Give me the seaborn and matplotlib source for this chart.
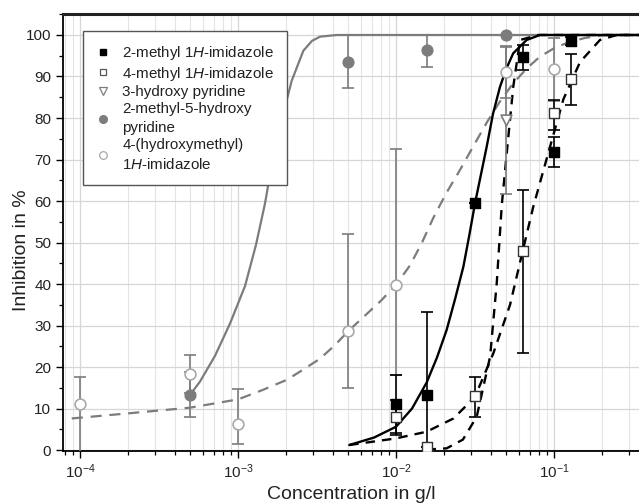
import numpy as np
import pandas as pd
import matplotlib
matplotlib.use("Agg")
import matplotlib.pyplot as plt
import seaborn as sns
from matplotlib import font_manager as fm
from matplotlib.ticker import LogLocator, MultipleLocator, NullFormatter
from matplotlib.lines import Line2D

sns.set_theme(style="ticks")
plt.rcParams["font.family"] = ["Liberation Sans", "DejaVu Sans"]

# pick an installed italic face for the "1H" parts
_it = None
for fam in ["Liberation Sans", "Arimo", "Roboto", "Open Sans", "Lato", "Noto Sans", "DejaVu Sans"]:
    for f in fm.fontManager.ttflist:
        if f.name == fam and f.style in ("italic", "oblique") and f.weight in (400, "normal", "regular", "book"):
            _it = (fam, f.style)
            break
    if _it:
        break
if _it is None:
    _it = ("DejaVu Sans", "oblique")
plt.rcParams["mathtext.fontset"] = "custom"
plt.rcParams["mathtext.rm"] = "Liberation Sans"
plt.rcParams["mathtext.it"] = f"{_it[0]}:{_it[1]}"
plt.rcParams["mathtext.bf"] = "Liberation Sans:bold"

# ---------------- data (concentration in g/l, inhibition in %) ----------------
# 2-methyl 1H-imidazole
m2_x = [0.01, 0.0156, 0.0316, 0.0634, 0.1, 0.1276]
m2_y = [11.2, 13.3, 59.4, 94.6, 71.9, 98.6]
m2_lo = [7.6, 20.0, 0.0, 3.0, 3.6, 1.0]
m2_hi = [6.9, 20.0, 0.0, 3.0, 3.5, 1.0]

# 4-methyl 1H-imidazole
m4_x = [0.01, 0.0156, 0.0316, 0.0634, 0.1, 0.1276]
m4_y = [8.0, 0.8, 12.9, 48.0, 81.3, 89.3]
m4_lo = [4.0, 0.0, 4.9, 24.7, 4.2, 6.2]
m4_hi = [4.0, 0.0, 4.8, 14.7, 3.0, 6.2]

# 3-hydroxy pyridine
hp_x = [0.05]
hp_y = [79.5]
hp_lo = [17.7]
hp_hi = [17.7]

# 2-methyl-5-hydroxy pyridine
mh_x = [0.0005, 0.005, 0.0156, 0.05]
mh_y = [13.3, 93.6, 96.4, 100.0]
mh_lo = [5.4, 6.4, 4.2, 0.0]
mh_hi = [5.4, 6.4, 3.6, 0.0]

# 4-(hydroxymethyl) 1H-imidazole
hm_x = [0.0001, 0.0005, 0.001, 0.005, 0.01, 0.05, 0.1]
hm_y = [11.2, 18.3, 6.3, 28.7, 39.8, 91.0, 91.7]
hm_lo = [12.0, 4.6, 4.8, 13.8, 21.7, 6.3, 7.5]
hm_hi = [6.5, 4.6, 8.4, 23.3, 32.8, 6.3, 7.5]

# fitted curves
fit_m2_x = [0.00506, 0.00726, 0.01, 0.01263, 0.0156, 0.01817, 0.0209, 0.02362, 0.0267,
            0.02918, 0.0316, 0.0375, 0.0411, 0.0455, 0.05006, 0.0552, 0.0671, 0.0815, 0.4]
fit_m2_y = [1.2, 3.0, 5.6, 10.0, 16.2, 22.3, 28.9, 36.3, 44.2,
            52.0, 59.4, 73.1, 81.0, 87.5, 92.0, 95.6, 98.8, 100.0, 100.0]

fit_m4_x = [0.00506, 0.01, 0.0156, 0.0231, 0.0316, 0.0413, 0.0527, 0.0634, 0.0739,
            0.0944, 0.1146, 0.1462, 0.1954, 0.25, 0.4]
fit_m4_y = [1.2, 2.8, 4.4, 7.6, 12.8, 23.3, 35.0, 48.0, 58.6,
            73.1, 84.5, 93.5, 98.8, 100.0, 100.0]

fit_hp_x = [0.0156, 0.0209, 0.0265, 0.0324, 0.0394, 0.0434, 0.0467, 0.0502, 0.0552,
            0.061, 0.0794, 0.4]
fit_hp_y = [0.1, 0.4, 2.5, 8.0, 22.5, 40.2, 59.0, 71.5, 87.5,
            98.8, 100.0, 100.0]

fit_hm_x = [0.0000886, 0.0001975, 0.000497, 0.001, 0.001418, 0.002033, 0.002469, 0.003304,
            0.00411, 0.005, 0.006365, 0.00804, 0.01, 0.012267, 0.01461, 0.01715, 0.02073,
            0.02542, 0.03116, 0.03766, 0.0455, 0.055, 0.06745, 0.08155, 0.1, 0.1208,
            0.1571, 0.2103, 0.4]
fit_hm_y = [7.6, 8.8, 10.2, 12.2, 14.4, 16.9, 18.9, 22.0,
            25.3, 28.7, 32.4, 36.0, 39.8, 44.5, 50.0, 55.8, 61.8,
            67.5, 73.5, 79.0, 84.0, 88.3, 92.0, 94.8, 96.8, 98.1,
            99.3, 100.0, 100.0]

fit_mh_x = [0.000497, 0.0005745, 0.000715, 0.00089, 0.001107, 0.0013, 0.001483, 0.001555,
            0.001844, 0.002187, 0.00259, 0.00294, 0.003304, 0.004213, 0.4]
fit_mh_y = [13.3, 16.5, 22.7, 30.5, 39.5, 49.5, 59.5, 64.0,
            78.0, 89.0, 96.2, 98.6, 99.6, 100.0, 100.0]

labels = ["2-methyl $\\mathit{1H}$-imidazole",
          "4-methyl $\\mathit{1H}$-imidazole",
          "3-hydroxy pyridine",
          "2-methyl-5-hydroxy\npyridine",
          "4-(hydroxymethyl)\n$\\mathit{1H}$-imidazole"]

# ---------------- styles ----------------
BLACK = "#000000"
GRAY = "#7c7c7c"
LGRAY = "#a8a8a8"

fig = plt.figure(figsize=(6.39, 5.03), dpi=100)
ax = fig.add_axes([63 / 639, 52 / 503, 576 / 639, 437 / 503])
ax.set_xscale("log")

# curves
sns.lineplot(x=fit_mh_x, y=fit_mh_y, ax=ax, color=GRAY, lw=1.6, sort=False,
             estimator=None, zorder=3)
sns.lineplot(x=fit_hm_x, y=fit_hm_y, ax=ax, color=GRAY, lw=1.6, sort=False,
             estimator=None, linestyle=(0, (5, 3.5)), zorder=3)
sns.lineplot(x=fit_m4_x, y=fit_m4_y, ax=ax, color=BLACK, lw=1.7, sort=False,
             estimator=None, linestyle=(0, (4, 3)), zorder=3)
sns.lineplot(x=fit_hp_x, y=fit_hp_y, ax=ax, color=BLACK, lw=1.7, sort=False,
             estimator=None, linestyle=(0, (4, 3)), zorder=3)
sns.lineplot(x=fit_m2_x, y=fit_m2_y, ax=ax, color=BLACK, lw=1.7, sort=False,
             estimator=None, zorder=3)

# error bars
def ebar(x, y, lo, hi, c):
    ax.errorbar(x, y, yerr=[lo, hi], fmt="none", ecolor=c, elinewidth=1.2,
                capsize=4, capthick=1.2, zorder=4)

ebar(hm_x, hm_y, hm_lo, hm_hi, GRAY)
ebar(mh_x, mh_y, mh_lo, mh_hi, GRAY)
ebar(hp_x, hp_y, hp_lo, hp_hi, GRAY)
ebar(m4_x, m4_y, m4_lo, m4_hi, BLACK)
ebar(m2_x, m2_y, m2_lo, m2_hi, BLACK)

# points
sns.scatterplot(x=hm_x, y=hm_y, ax=ax, marker="o", s=60, color="white",
                edgecolor=LGRAY, linewidth=1.2, zorder=5)
sns.scatterplot(x=mh_x, y=mh_y, ax=ax, marker="o", s=60, color=GRAY,
                edgecolor=GRAY, linewidth=1.0, zorder=5)
sns.scatterplot(x=hp_x, y=hp_y, ax=ax, marker="v", s=60, color="white",
                edgecolor=GRAY, linewidth=1.2, zorder=5)
sns.scatterplot(x=m4_x, y=m4_y, ax=ax, marker="s", s=42, color="white",
                edgecolor="#333333", linewidth=1.0, zorder=6)
sns.scatterplot(x=m2_x, y=m2_y, ax=ax, marker="s", s=42, color=BLACK,
                edgecolor=BLACK, linewidth=1.0, zorder=6)

# axes
ax.set_xlim(10 ** -4.108, 10 ** -0.462)
ax.set_ylim(-0.24, 105.06)
ax.set_yticks(np.arange(0, 101, 10))
ax.yaxis.set_minor_locator(MultipleLocator(5))
ax.xaxis.set_major_locator(LogLocator(base=10, numticks=10))
ax.xaxis.set_minor_locator(LogLocator(base=10, subs=np.arange(2, 10), numticks=20))
ax.xaxis.set_minor_formatter(NullFormatter())
ax.tick_params(which="major", direction="out", length=5, width=1.0, colors="black",
               labelsize=11, labelcolor="#222222")
ax.tick_params(which="minor", direction="out", length=3, width=0.9, colors="black")
ax.grid(True, which="major", color="#d6d6d6", lw=0.9, zorder=0)
ax.xaxis.grid(True, which="minor", color="#e4e4e4", lw=0.8, zorder=0)
ax.set_axisbelow(True)
for s in ["left", "bottom"]:
    ax.spines[s].set_color("black")
    ax.spines[s].set_linewidth(1.3)
ax.spines["top"].set_color("#222222")
ax.spines["top"].set_linewidth(2.2)
ax.spines["right"].set_visible(False)

ax.set_xlabel("Concentration in g/l", fontsize=14, color="#222222", labelpad=3)
ax.set_ylabel("Inhibition in %", fontsize=14, color="#222222")
ax.yaxis.set_label_coords(-0.058, 0.46)

handles = [
    Line2D([], [], ls="none", marker="s", ms=5, mfc=BLACK, mec=BLACK),
    Line2D([], [], ls="none", marker="s", ms=5, mfc="white", mec="#555555", mew=0.9),
    Line2D([], [], ls="none", marker="v", ms=6, mfc="white", mec=GRAY, mew=0.9),
    Line2D([], [], ls="none", marker="o", ms=5.5, mfc=GRAY, mec=GRAY),
    Line2D([], [], ls="none", marker="o", ms=5.5, mfc="white", mec=LGRAY, mew=0.9),
]
leg = ax.legend(handles, labels, loc="upper left", bbox_to_anchor=(0.0347, 0.961),
                borderaxespad=0, frameon=True, fancybox=False, fontsize=10.9,
                handlelength=1.0, handletextpad=0.75, borderpad=0.85,
                labelspacing=0.18, framealpha=1.0, edgecolor="#555555")
leg.get_frame().set_linewidth(1.0)
leg.set_zorder(10)
for t in leg.get_texts():
    t.set_color("#222222")
    t.set_linespacing(1.45)

fig.savefig("out.png", dpi=100)
